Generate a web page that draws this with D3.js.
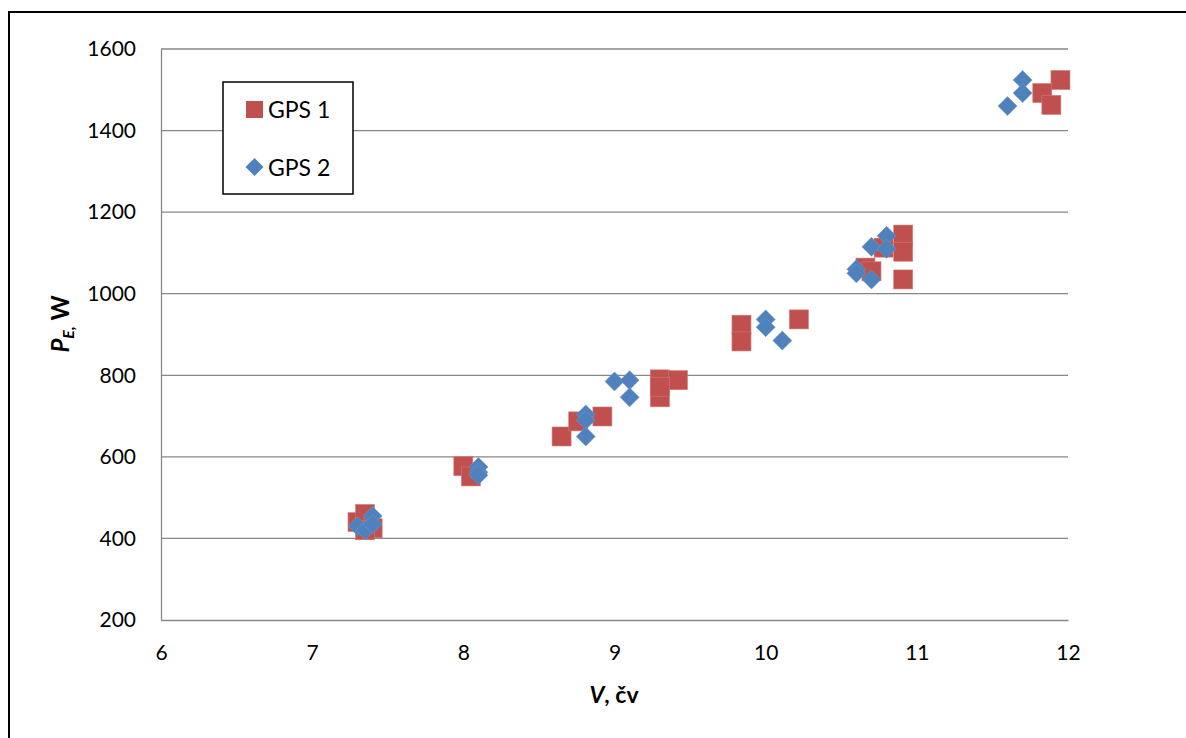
<!DOCTYPE html>
<html><head><meta charset="utf-8">
<script src="https://cdn.jsdelivr.net/npm/d3@7"></script>
<style>body{margin:0;background:#fff}svg{display:block}</style>
</head><body>
<script>
const xTicks = [6,7,8,9,10,11,12];
const yTicks = [200,400,600,800,1000,1200,1400,1600];
const gps1X = [7.3,7.35,7.4,7.35, 8.0,8.05, 8.65,8.76,8.92,9.3,9.3,9.42,9.3, 9.84,9.84,10.22, 10.66,10.7,10.78,10.91,10.91,10.91, 11.95,11.83,11.89];
const gps1Y = [440,460,425,420, 577,552, 650,687,699,790,746,788,772, 924,883,937, 1064,1055,1113,1145,1103,1035, 1524,1492,1463];
const gps2X = [7.3,7.35,7.4,7.4, 8.1,8.1,8.1, 8.81,8.81,8.81,9.0,9.1,9.1, 10.0,10.0,10.11, 10.6,10.6,10.7,10.7,10.8,10.8, 11.7,11.7,11.6];
const gps2Y = [430,420,455,435, 575,562,555, 704,690,650,785,788,746, 937,918,885, 1060,1050,1035,1115,1142,1110, 1524,1492,1460];
const seriesNames = ["GPS 1","GPS 2"];

const W=1186,H=738;
const svg=d3.select("body").append("svg").attr("width",W).attr("height",H);
const font="Lato, 'Open Sans', sans-serif";
// outer frame
svg.append("rect").attr("x",9).attr("y",12).attr("width",W+20).attr("height",H+20)
  .attr("fill","none").attr("stroke","#000").attr("stroke-width",2);

const x=d3.scaleLinear().domain([6,12]).range([161,1068]);
const y=d3.scaleLinear().domain([200,1600]).range([620,49]);
const grid="#878787";
// gridlines
svg.append("g").selectAll("line").data(yTicks.filter(d=>d>200)).join("line")
  .attr("x1",161).attr("x2",1068).attr("y1",d=>y(d)).attr("y2",d=>y(d))
  .attr("stroke",grid).attr("stroke-width",1.3);
// axes
const gx=svg.append("g").attr("transform","translate(0,"+y(200)+")")
  .call(d3.axisBottom(x).tickValues(xTicks).tickSize(0).tickPadding(25).tickFormat(d3.format("d")));
const gy=svg.append("g").attr("transform","translate("+x(6)+",0)")
  .call(d3.axisLeft(y).tickValues(yTicks).tickSize(0).tickPadding(25).tickFormat(d3.format("d")));
[gx,gy].forEach(g=>{
  g.select(".domain").attr("stroke",grid).attr("stroke-width",1.3);
  g.selectAll(".tick line").remove();
  g.selectAll("text").attr("font-family",font).attr("font-size",21).attr("fill","#000");
});

const red="#C0504D", blue="#4F81BD";
const s=19, dd=9.5;
svg.append("g").selectAll("rect").data(d3.range(gps1X.length)).join("rect")
  .attr("x",i=>x(gps1X[i])-s/2).attr("y",i=>y(gps1Y[i])-s/2).attr("width",s).attr("height",s)
  .attr("fill",red).attr("stroke","#d07a77").attr("stroke-width",0.6);
svg.append("g").selectAll("path").data(d3.range(gps2X.length)).join("path")
  .attr("d",i=>{const cx=x(gps2X[i]),cy=y(gps2Y[i]);return `M${cx},${cy-dd}L${cx+dd},${cy}L${cx},${cy+dd}L${cx-dd},${cy}Z`;})
  .attr("fill",blue).attr("stroke","#7096c8").attr("stroke-width",0.6);

// legend
const lg=svg.append("g");
lg.append("rect").attr("x",223).attr("y",82).attr("width",130).attr("height",112)
  .attr("fill","#fff").attr("stroke","#000").attr("stroke-width",1.5);
lg.append("rect").attr("x",246).attr("y",101).attr("width",17).attr("height",17).attr("fill",red);
lg.append("path").attr("d","M254.5,158L263.5,167L254.5,176L245.5,167Z").attr("fill",blue);
lg.append("text").attr("x",268).attr("y",118).text(seriesNames[0])
  .attr("font-family",font).attr("font-size",23);
lg.append("text").attr("x",268).attr("y",176).text(seriesNames[1])
  .attr("font-family",font).attr("font-size",23);

// axis titles
const xt=svg.append("text").attr("x",614).attr("y",703).attr("text-anchor","middle")
  .attr("font-family",font).attr("font-size",23).attr("font-weight","bold");
xt.append("tspan").attr("font-style","italic").text("V");
xt.append("tspan").text(", čv");
const yt=svg.append("text").attr("transform","translate(69,324) rotate(-90)").attr("text-anchor","middle")
  .attr("font-family",font).attr("font-size",24).attr("font-weight","bold");
yt.append("tspan").attr("font-style","italic").text("P");
yt.append("tspan").attr("font-style","italic").attr("font-size",16).attr("dy",5).text("E,");
yt.append("tspan").attr("dy",-5).text(" W");
</script>
</body></html>
